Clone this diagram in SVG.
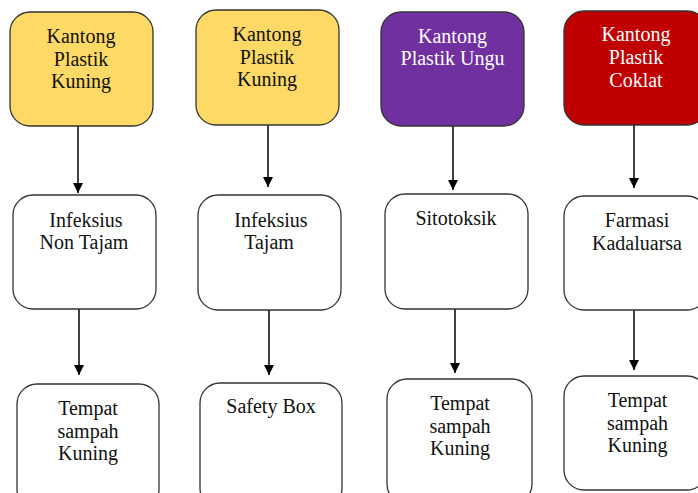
<svg xmlns="http://www.w3.org/2000/svg" width="698" height="493" viewBox="0 0 698 493">
<style>
.box{stroke:#333;stroke-width:1.3}
.w{fill:#fff}
text{font-family:"Liberation Serif","Times New Roman",serif;font-size:20px;text-anchor:middle;fill:#111}
.lt{fill:#fff}
.c{stroke:#000;stroke-width:1.5;fill:none}
</style>
<defs>
<marker id="ah" viewBox="0 0 10 10" refX="10" refY="5" markerWidth="10" markerHeight="10" markerUnits="userSpaceOnUse" orient="auto">
<path d="M0,0 L10,5 L0,10 z" fill="#000"/>
</marker>
</defs>
<rect width="698" height="493" fill="#fff"/>
<g id="connectors">
<line class="c" x1="78" y1="126" x2="78" y2="193" marker-end="url(#ah)"/>
<line class="c" x1="268" y1="125" x2="268" y2="187" marker-end="url(#ah)"/>
<line class="c" x1="453" y1="126" x2="453" y2="190" marker-end="url(#ah)"/>
<line class="c" x1="634" y1="125" x2="634" y2="188" marker-end="url(#ah)"/>
<line class="c" x1="79" y1="309" x2="79" y2="375" marker-end="url(#ah)"/>
<line class="c" x1="269" y1="310" x2="269" y2="375" marker-end="url(#ah)"/>
<line class="c" x1="455" y1="309" x2="455" y2="373" marker-end="url(#ah)"/>
<line class="c" x1="634" y1="310" x2="634" y2="370" marker-end="url(#ah)"/>
</g>
<g id="n1">
<rect class="box" x="10" y="12" width="143" height="114" rx="20" fill="#FFD966"/>
<text x="81" y="43">Kantong</text><text x="81" y="66">Plastik</text><text x="81" y="88">Kuning</text>
</g>
<g id="n2">
<rect class="box" x="196" y="10" width="143" height="115" rx="20" fill="#FFD966"/>
<text x="267" y="41">Kantong</text><text x="267" y="64">Plastik</text><text x="267" y="86">Kuning</text>
</g>
<g id="n3">
<rect class="box" x="381" y="12" width="143" height="114" rx="20" fill="#7030A0"/>
<text class="lt" x="452.5" y="43">Kantong</text><text class="lt" x="452.5" y="65">Plastik Ungu</text>
</g>
<g id="n4">
<rect class="box" x="564" y="11" width="143" height="114" rx="20" fill="#C00000"/>
<text class="lt" x="636" y="41">Kantong</text><text class="lt" x="636" y="64">Plastik</text><text class="lt" x="636" y="87">Coklat</text>
</g>
<g id="n5">
<rect class="box w" x="13" y="195" width="143" height="114" rx="20"/>
<text x="86" y="227">Infeksius</text><text x="84" y="249">Non Tajam</text>
</g>
<g id="n6">
<rect class="box w" x="198" y="195" width="143" height="115" rx="20"/>
<text x="271" y="227">Infeksius</text><text x="269" y="249">Tajam</text>
</g>
<g id="n7">
<rect class="box w" x="385" y="194" width="143" height="115" rx="20"/>
<text x="456" y="225">Sitotoksik</text>
</g>
<g id="n8">
<rect class="box w" x="564" y="196" width="143" height="114" rx="20"/>
<text x="637" y="227">Farmasi</text><text x="637" y="250">Kadaluarsa</text>
</g>
<g id="n9">
<rect class="box w" x="17" y="384" width="142" height="125" rx="20"/>
<text x="88" y="415">Tempat</text><text x="88" y="438">sampah</text><text x="88" y="460">Kuning</text>
</g>
<g id="n10">
<rect class="box w" x="200" y="383" width="142" height="125" rx="20"/>
<text x="271" y="413">Safety Box</text>
</g>
<g id="n11">
<rect class="box w" x="387" y="379" width="145" height="125" rx="20"/>
<text x="460" y="410">Tempat</text><text x="460" y="433">sampah</text><text x="460" y="455">Kuning</text>
</g>
<g id="n12">
<rect class="box w" x="564" y="376" width="143" height="114" rx="20"/>
<text x="637.5" y="407">Tempat</text><text x="637.5" y="430">sampah</text><text x="637.5" y="452">Kuning</text>
</g>
</svg>
